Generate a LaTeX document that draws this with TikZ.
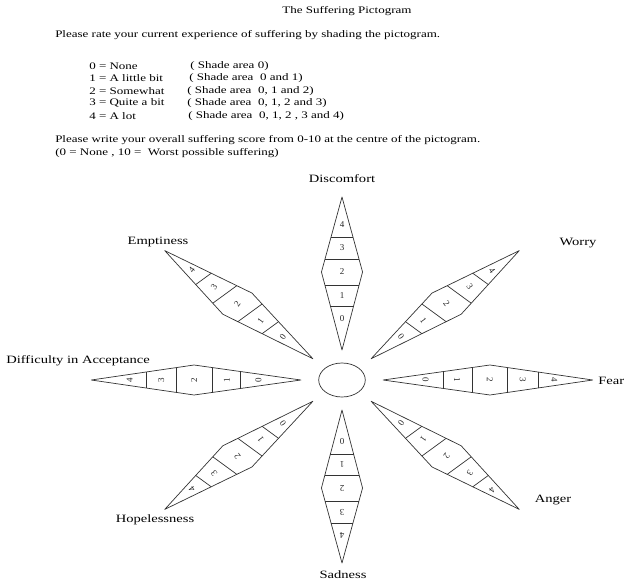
\documentclass[tikz,border=0pt]{standalone}
\usepackage{fontspec}
\setmainfont{Liberation Serif}

\begin{document}
\begin{tikzpicture}[x=1pt, y=1pt,
    txt/.style={font=\fontsize{10}{12}\selectfont, xscale=1.3, inner sep=0pt},
    lab/.style={font=\fontsize{11.2}{13}\selectfont, xscale=1.3, inner sep=0pt},
    petal/.style={draw=black!80, line width=0.7pt, line join=round},
    digit/.style={font=\fontsize{9}{10}\selectfont, text=black!85, inner sep=0pt}]
    \useasboundingbox (0,0) rectangle (635,-582);

    % Draw heading and instructions
    \node[txt] (title) at (347,-11) {The Suffering Pictogram};
    \node[txt, anchor=west] (rate) at (55,-35) {Please rate your current experience of suffering by shading the pictogram.};
    \foreach \n/\y/\x/\lvl/\area in {0/66/190/None/{0)}, 1/78/189/A little bit/{~0 and 1)}, 2/91/187/Somewhat/{~0, 1 and 2)}, 3/103/187/Quite a bit/{~0, 1, 2 and 3)}, 4/116/188/A lot/{~0, 1, 2 , 3 and 4)}}{
        \node[txt, anchor=west] (lvl\n) at (89,-\y) {\n\ = \lvl};
        \node[txt, anchor=west] (area\n) at (\x,-\y) {( Shade area \area};
    }
    \node[txt, anchor=west] (write) at (55,-140) {Please write your overall suffering score from 0-10 at the centre of the pictogram.};
    \node[txt, anchor=west] (range) at (55,-153) {(0 = None , 10 =~ Worst possible suffering)};

    % Draw centre and the eight petals
    \begin{scope}[shift={(342,-380)}, xscale=1.37]
        \draw[petal] (0,0) circle[radius=17];
        \foreach \a/\rot in {90/0, 45/-53.9, 0/-90, -45/-126.1, -90/180, -135/126.1, 180/90, 135/53.9}{
            \begin{scope}[rotate=\a]
                \draw[petal] (30,0) -- (108,15) -- (183,0) -- (108,-15) -- cycle;
                \draw[petal] (74,-8.5) -- (74,8.5) (95,-12.5) -- (95,12.5)
                    (121,-12.4) -- (121,12.4) (143,-8) -- (143,8);
                \foreach \d/\r in {0/61, 1/84, 2/108, 3/132, 4/155}
                    \node[digit, rotate=\rot] (p\a d\d) at (\r,0) {\d};
            \end{scope}
        }
    \end{scope}

    % Draw petal labels
    \node[lab] (discomfort) at (342,-179) {Discomfort};
    \node[lab] (worry) at (578,-243) {Worry};
    \node[lab, anchor=west] (fear) at (598,-381) {Fear};
    \node[lab] (anger) at (553,-500) {Anger};
    \node[lab] (sadness) at (343,-575) {Sadness};
    \node[lab] (hopeless) at (155,-520) {Hopelessness};
    \node[lab, anchor=west] (accept) at (6,-361) {Difficulty in Acceptance};
    \node[lab] (empty) at (158,-242) {Emptiness};
\end{tikzpicture}
\end{document}
